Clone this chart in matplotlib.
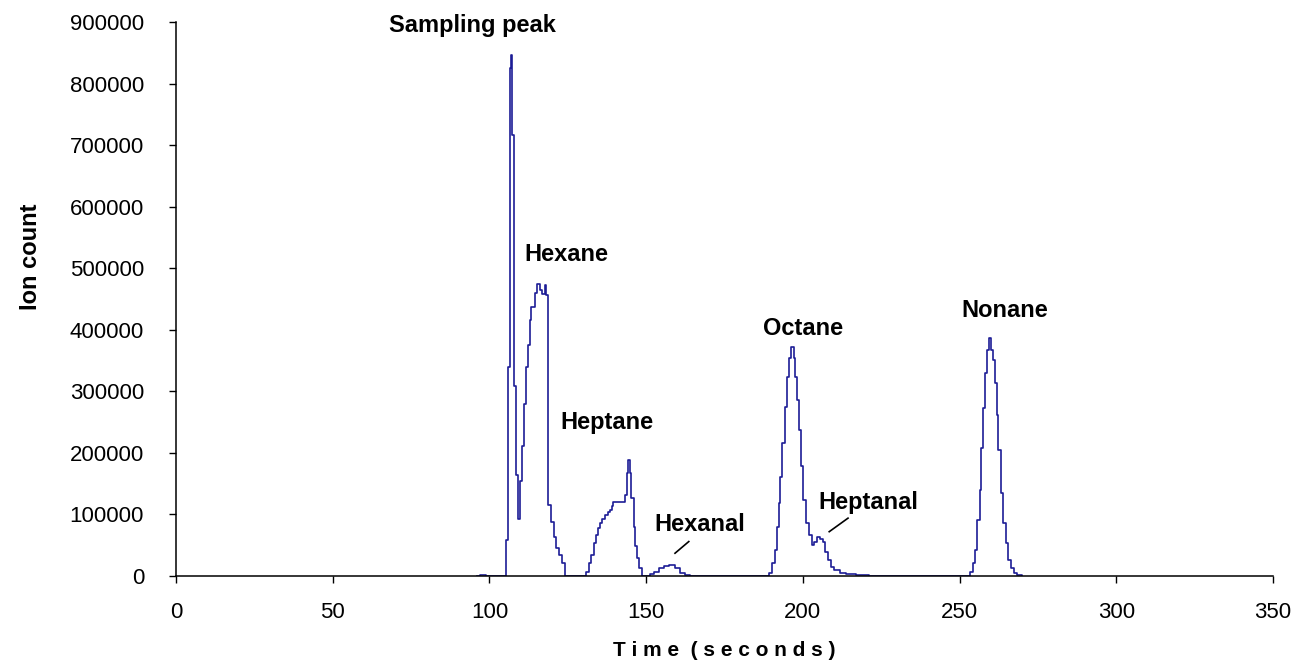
import matplotlib
matplotlib.use('Agg')
import matplotlib.pyplot as plt

plt.rcParams['font.family'] = ['Liberation Sans', 'DejaVu Sans']

# chromatogram (time in s, ion count), drawn as steps
time = [96, 97, 99, 105.3, 106, 106.4, 106.8, 107.2, 107.8, 108.4, 109, 109.8, 110.3, 111,
        111.7, 112.3, 112.8, 113.4, 114.4, 115.3, 116, 116.7, 117.6, 118, 118.6, 119.7,
        120.5, 121.2, 122.3, 123.3, 124.2,
        130.7, 131.8, 132.4, 133.2, 134, 134.6, 135.3, 136, 136.9, 137.7, 138.5, 139, 139.5,
        143.3, 143.8, 144.3, 144.7, 145.1, 146, 146.5, 147, 147.7, 148.7,
        151.3, 152.4, 154, 155.6, 157.2, 159.3, 160.9, 162.5, 164,
        189.2, 190.3, 191, 191.6, 192.3, 192.8, 193.4, 194.2, 194.9, 195.6, 196.2, 197.1,
        197.6, 198.1, 198.9, 199.4, 199.9, 201, 201.8, 202.9, 203.6, 204.4, 205.4, 206.3,
        207.1, 207.9, 209, 210, 211.7, 213.8, 217, 221,
        253.3, 254.2, 255, 255.7, 256.4, 256.8, 257.5, 258.2, 258.7, 259.3, 260.1, 260.6,
        261.4, 261.9, 262.4, 263.2, 264, 264.9, 265.6, 266.5, 267.2, 268.3, 270]
counts = [0, 2000, 0, 58000, 340000, 825000, 846000, 716000, 308000, 164000, 92000, 154000,
          211000, 279000, 340000, 375000, 416000, 437000, 460000, 474000, 465000, 458000,
          473000, 457000, 115000, 88000, 63000, 45000, 34000, 21000, 0,
          7000, 21000, 34000, 53000, 67000, 78000, 86000, 92000, 99000, 104000, 107000,
          113000, 121000, 131000, 167000, 188000, 167000, 126000, 80000, 48000, 29000,
          13000, 0,
          3000, 7000, 13000, 16000, 18000, 13000, 5000, 2000, 0,
          5000, 21000, 42000, 80000, 118000, 161000, 216000, 275000, 324000, 354000, 372000,
          354000, 324000, 286000, 237000, 178000, 123000, 86000, 67000, 50000, 56000, 64000,
          60000, 56000, 39000, 26000, 15000, 10000, 5000, 3000, 1500, 0,
          7000, 21000, 42000, 91000, 140000, 208000, 273000, 330000, 367000, 387000, 367000,
          351000, 313000, 262000, 205000, 135000, 86000, 54000, 26000, 13000, 5000, 2000, 0]

peak_names = ['Sampling peak', 'Hexane', 'Heptane', 'Hexanal', 'Octane', 'Heptanal', 'Nonane']
label_x = [94.5, 124.5, 137.5, 167, 200, 221, 264.5]
label_y = [895000, 523000, 249000, 83000, 402000, 119000, 431000]

fig = plt.figure(figsize=(13.01, 6.63), dpi=100)
ax = fig.add_axes([0.1353, 0.1312, 0.8432, 0.8356])

ax.plot(time, counts, drawstyle='steps-post', color='#1c1c96', lw=1.2, zorder=2)

for name, x, y in zip(peak_names, label_x, label_y):
    ax.text(x, y, name, ha='center', va='center', fontsize=17, fontweight='bold')

# little leader lines for the two small peaks
ax.plot([159.2, 163.6], [37000, 56000], color='black', lw=1.2)
ax.plot([208.4, 214.4], [72000, 94000], color='black', lw=1.2)

ax.set_xlim(0, 350)
ax.set_ylim(0, 900000)
ax.set_xticks(range(0, 351, 50))
ax.set_yticks(range(0, 900001, 100000))
ax.set_yticklabels([str(v) for v in range(0, 900001, 100000)])
ax.tick_params(direction='out', length=5, width=1, labelsize=16)
ax.tick_params(axis='y', pad=18)
ax.tick_params(axis='x', pad=14)

for s in ['top', 'right']:
    ax.spines[s].set_visible(False)
for s in ['left', 'bottom']:
    ax.spines[s].set_linewidth(1.1)
    ax.spines[s].set_zorder(3)

ax.set_xlabel('T i m e  ( s e c o n d s )', fontsize=15, fontweight='bold')
ax.xaxis.set_label_coords(0.5, -0.118)
ax.set_ylabel('Ion count', fontsize=17, fontweight='bold')
ax.yaxis.set_label_coords(-0.122, 0.576)

fig.savefig('out.png', dpi=100)
